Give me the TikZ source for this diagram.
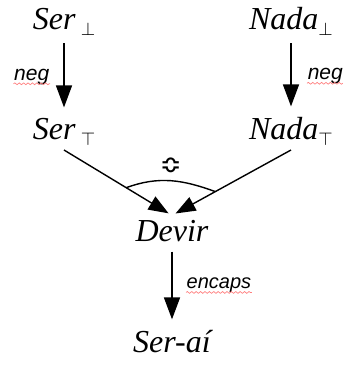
\documentclass[tikz,border=0pt]{standalone}
\usepackage{amssymb}
\usepackage{fontspec}
\setmainfont{Liberation Serif}
\setsansfont{Liberation Sans}
\newfontfamily\symfont{DejaVu Sans}
\usetikzlibrary{arrows.meta,decorations.pathmorphing}

% small lowered marker used as an index on the terms
\newcommand\lowmark[1]{\raisebox{-0.45ex}{\fontsize{9}{9}\selectfont$#1$}}

\begin{document}
\begin{tikzpicture}[x=0.5pt,y=-0.5pt,
  term/.style={font=\fontsize{16}{18}\selectfont\itshape, inner sep=2pt, anchor=base},
  lbl/.style={font=\sffamily\itshape\fontsize{10.5}{12}\selectfont, inner sep=0pt},
  map/.style={line width=0.75pt, -{Triangle[length=11pt,width=8pt]}},
  squiggle/.style={draw=red!50, line width=0.35pt, decorate,
    decoration={snake, amplitude=0.45pt, segment length=2.2pt}}]
\useasboundingbox (0,0) rectangle (343,365);

% terms
\node[term] (SerB)  at (64,29)   {Ser\,\lowmark{\bot}};
\node[term] (SerT)  at (64,139)  {Ser\,\lowmark{\top}};
\node[term] (NadaB) at (291,29)  {Nada\lowmark{\bot}};
\node[term] (NadaT) at (291,139) {Nada\lowmark{\top}};
\node[term] (Devir) at (172,241) {Devir};
\node[term] (SerAi) at (172,352) {Ser-aí};

% negation arrows
\draw[map, shorten <=1.5pt, shorten >=3pt] (SerB) -- node[lbl, left=7pt] (lnegL) {neg} (SerT);
\draw[map, shorten <=1.5pt, shorten >=3pt] (NadaB) -- node[lbl, right=8pt] (lnegR) {neg} (NadaT);

% both sides meet in the becoming
\draw[map, line width=0.7pt, -{Triangle[length=10pt,width=7.5pt]}, shorten >=2pt] (SerT.south) -- (Devir.north)
  coordinate[pos=0.576] (arcL);
\draw[map, line width=0.7pt, -{Triangle[length=10pt,width=7.5pt]}, shorten >=2pt] (NadaT.south) -- (Devir.north)
  coordinate[pos=0.636] (arcR);
\draw[line width=0.7pt] (arcL) to[out=20, in=160] coordinate[pos=0.5] (arcTop) (arcR);
\node[inner sep=0pt, font=\symfont\fontsize{13}{13}\selectfont] (bump) at ([yshift=7.5pt]arcTop) {≎};

% encapsulation
\draw[map, shorten <=3pt, shorten >=3pt] (Devir) -- node[lbl, right=7pt, font=\sffamily\itshape\fontsize{10}{12}\selectfont] (lenc) {encaps} (SerAi);

% spell-check underlines
\draw[squiggle] ([yshift=-1.8pt]lnegL.base west) -- ([yshift=-1.8pt]lnegL.base east);
\draw[squiggle] ([yshift=-1.8pt]lnegR.base west) -- ([yshift=-1.8pt]lnegR.base east);
\draw[squiggle] ([yshift=-1.8pt]lenc.base west) -- ([yshift=-1.8pt]lenc.base east);
\end{tikzpicture}
\end{document}
